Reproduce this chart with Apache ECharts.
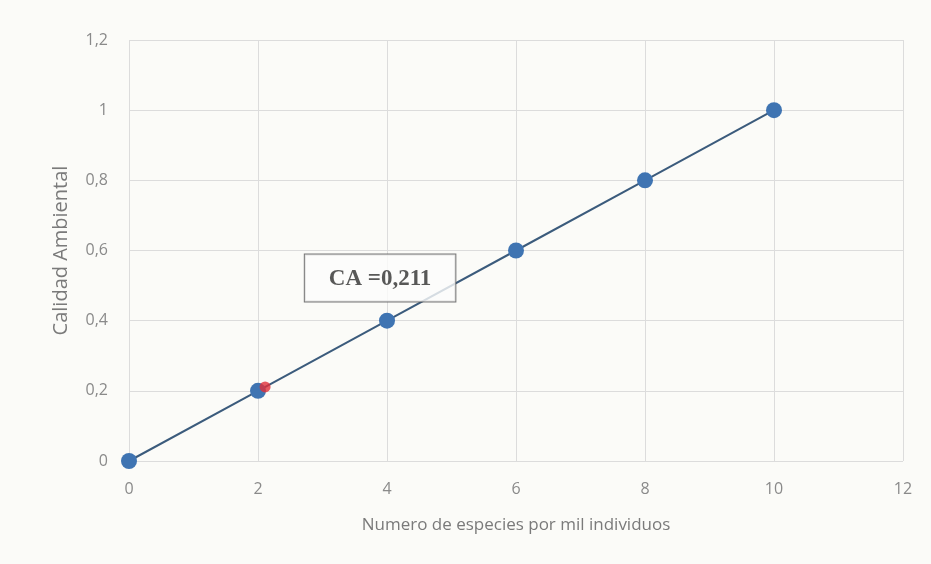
<!DOCTYPE html>
<html><head><meta charset="utf-8">
<script src="https://cdn.jsdelivr.net/npm/echarts@6/dist/echarts.min.js"></script>
<style>html,body{margin:0;padding:0;background:#fbfbf8}#c{width:931px;height:564px}</style>
</head><body><div id="c"></div>
<script>
const xValues = [0, 2, 4, 6, 8, 10];
const yValues = [0, 0.2, 0.4, 0.6, 0.8, 1];
const caPoint = [2.11, 0.211];
const caLabel = 'CA =0,211';
const xName = 'Numero de especies por mil individuos';
const yName = 'Calidad Ambiental';

const fmt = v => String(Math.round(v * 10) / 10).replace('.', ',');
const chart = echarts.init(document.getElementById('c'));
chart.setOption({
  backgroundColor: '#fbfbf8',
  animation: false,
  grid: {left: 129, right: 28, top: 40, bottom: 103},
  xAxis: {
    type: 'value', min: 0, max: 12, interval: 2,
    name: xName, nameLocation: 'middle', nameGap: 56,
    nameTextStyle: {color: '#7a7a7a', fontSize: 17, fontFamily: 'Open Sans'},
    axisLine: {show: false}, axisTick: {show: false},
    axisLabel: {color: '#8a8a8a', fontSize: 16, margin: 20, fontFamily: 'Open Sans'},
    splitLine: {show: true, lineStyle: {color: '#dcdcdc'}}
  },
  yAxis: {
    type: 'value', min: 0, max: 1.2, interval: 0.2,
    name: yName, nameLocation: 'middle', nameGap: 58,
    nameTextStyle: {color: '#7a7a7a', fontSize: 20, fontFamily: 'Open Sans'},
    axisLine: {show: false}, axisTick: {show: false},
    axisLabel: {color: '#8a8a8a', fontSize: 16, margin: 21, fontFamily: 'Open Sans', formatter: fmt},
    splitLine: {show: true, lineStyle: {color: '#dcdcdc'}}
  },
  series: [
    {
      type: 'line', z: 2,
      data: xValues.map((x, i) => [x, yValues[i]]),
      symbol: 'circle', symbolSize: 16,
      itemStyle: {color: '#3f74b2'},
      lineStyle: {color: '#3b5b7c', width: 2}
    },
    {
      type: 'scatter', z: 10,
      data: [caPoint],
      symbol: 'circle', symbolSize: 11,
      itemStyle: {color: '#e0303a'},
      label: {
        show: true, position: 'top', offset: [115, -75],
        formatter: caLabel,
        fontFamily: 'Liberation Serif', fontWeight: 'bold', fontSize: 23, color: '#2e2e2e',
        backgroundColor: '#fdfdfb', borderColor: '#555', borderWidth: 1,
        padding: [13, 24, 11, 24]
      }
    }
  ]
});
</script></body></html>
